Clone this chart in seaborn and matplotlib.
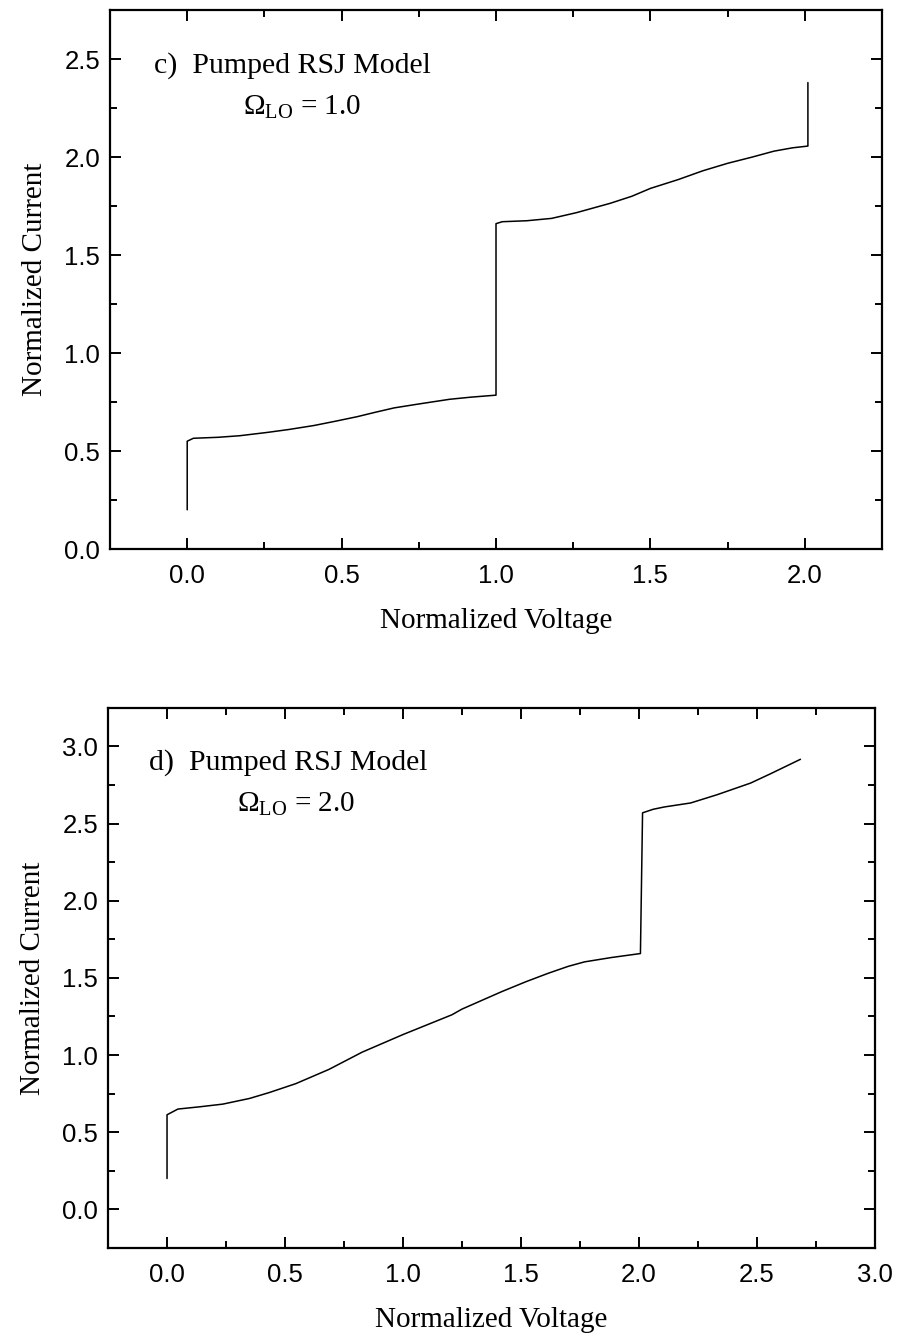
import numpy as np
import pandas as pd
import matplotlib
matplotlib.use("Agg")
import matplotlib.pyplot as plt
import seaborn as sns
from matplotlib.ticker import MultipleLocator, FormatStrFormatter

# panel c) Omega_LO = 1.0  (read off the reference)
volt_c = [0.0, 0.0, 0.02, 0.1, 0.17, 0.26, 0.33, 0.41, 0.48, 0.55, 0.61, 0.67, 0.75,
          0.85, 0.92, 1.0,
          1.0, 1.02, 1.1, 1.18, 1.26, 1.37, 1.44, 1.5, 1.59, 1.67, 1.75, 1.83,
          1.9, 1.96, 2.01, 2.01]
curr_c = [0.2, 0.55, 0.565, 0.57, 0.578, 0.595, 0.61, 0.63, 0.652, 0.675, 0.698,
          0.72, 0.74, 0.764, 0.775, 0.785,
          1.66, 1.67, 1.675, 1.687, 1.716, 1.764, 1.8, 1.84, 1.885, 1.93, 1.968,
          2.0, 2.03, 2.047, 2.056, 2.38]

# panel d) Omega_LO = 2.0
volt_d = [0.0, 0.0, 0.046, 0.14, 0.236, 0.35, 0.433, 0.546, 0.686, 0.827, 1.0,
          1.207, 1.25, 1.418, 1.52, 1.615, 1.7, 1.769, 1.882, 2.006,
          2.015, 2.06, 2.107, 2.219, 2.332, 2.473, 2.557, 2.684]
curr_d = [0.2, 0.613, 0.65, 0.665, 0.682, 0.719, 0.757, 0.815, 0.907, 1.019, 1.133,
          1.261, 1.298, 1.411, 1.475, 1.53, 1.575, 1.604, 1.632, 1.658,
          2.57, 2.593, 2.608, 2.634, 2.688, 2.763, 2.823, 2.917]

titles = ["c)  Pumped RSJ Model", "d)  Pumped RSJ Model"]
omega_labels = [r"$\Omega_{\mathrm{LO}}$ = 1.0", r"$\Omega_{\mathrm{LO}}$ = 2.0"]

sns.set_style("ticks")
plt.rcParams["font.family"] = ["Liberation Sans", "DejaVu Sans"]
plt.rcParams["mathtext.fontset"] = "custom"
plt.rcParams["mathtext.rm"] = "Liberation Serif"
plt.rcParams["mathtext.it"] = "Liberation Serif:italic"
for key in ["text.color", "axes.labelcolor", "xtick.color", "ytick.color", "axes.edgecolor"]:
    plt.rcParams[key] = "black"

serif = ["Liberation Serif", "DejaVu Serif"]

fig = plt.figure(figsize=(8.98, 13.41), dpi=100)
ax_c = fig.add_axes([0.1225, 0.5906, 0.8597, 0.4019])
ax_d = fig.add_axes([0.1203, 0.0694, 0.8541, 0.4027])

panels = [
    (ax_c, volt_c, curr_c, (-0.25, 2.25), (0.0, 2.75), (0.057, 0.883), (0.172, 0.805)),
    (ax_d, volt_d, curr_d, (-0.25, 3.0), (-0.25, 3.25), (0.053, 0.885), (0.168, 0.807)),
]

for i, (ax, v, c, xl, yl, tpos, opos) in enumerate(panels):
    df = pd.DataFrame({"Voltage": v, "Current": c})
    sns.lineplot(data=df, x="Voltage", y="Current", ax=ax, sort=False,
                 estimator=None, color="black", linewidth=1.1)
    ax.set_xlim(*xl)
    ax.set_ylim(*yl)
    ax.xaxis.set_major_locator(MultipleLocator(0.5))
    ax.xaxis.set_minor_locator(MultipleLocator(0.25))
    ax.yaxis.set_major_locator(MultipleLocator(0.5))
    ax.yaxis.set_minor_locator(MultipleLocator(0.25))
    ax.xaxis.set_major_formatter(FormatStrFormatter("%.1f"))
    ax.yaxis.set_major_formatter(FormatStrFormatter("%.1f"))
    ax.tick_params(which="both", direction="in", top=True, right=True,
                   width=1.4, labelsize=18.5)
    ax.tick_params(which="major", length=8)
    ax.tick_params(which="minor", length=5)
    ax.tick_params(axis="x", which="major", pad=11)
    ax.tick_params(axis="y", which="major", pad=7)
    for sp in ax.spines.values():
        sp.set_linewidth(1.6)
        sp.set_visible(True)
    ax.set_xlabel("Normalized Voltage", fontsize=21, family=serif, labelpad=14)
    ax.set_ylabel("Normalized Current", fontsize=21, family=serif, labelpad=12)
    ax.text(tpos[0], tpos[1], titles[i], transform=ax.transAxes, fontsize=21.5,
            family=serif, va="baseline", ha="left")
    ax.text(opos[0], opos[1], omega_labels[i], transform=ax.transAxes, fontsize=21,
            family=serif, va="baseline", ha="left")

fig.savefig("out.png", dpi=100)
